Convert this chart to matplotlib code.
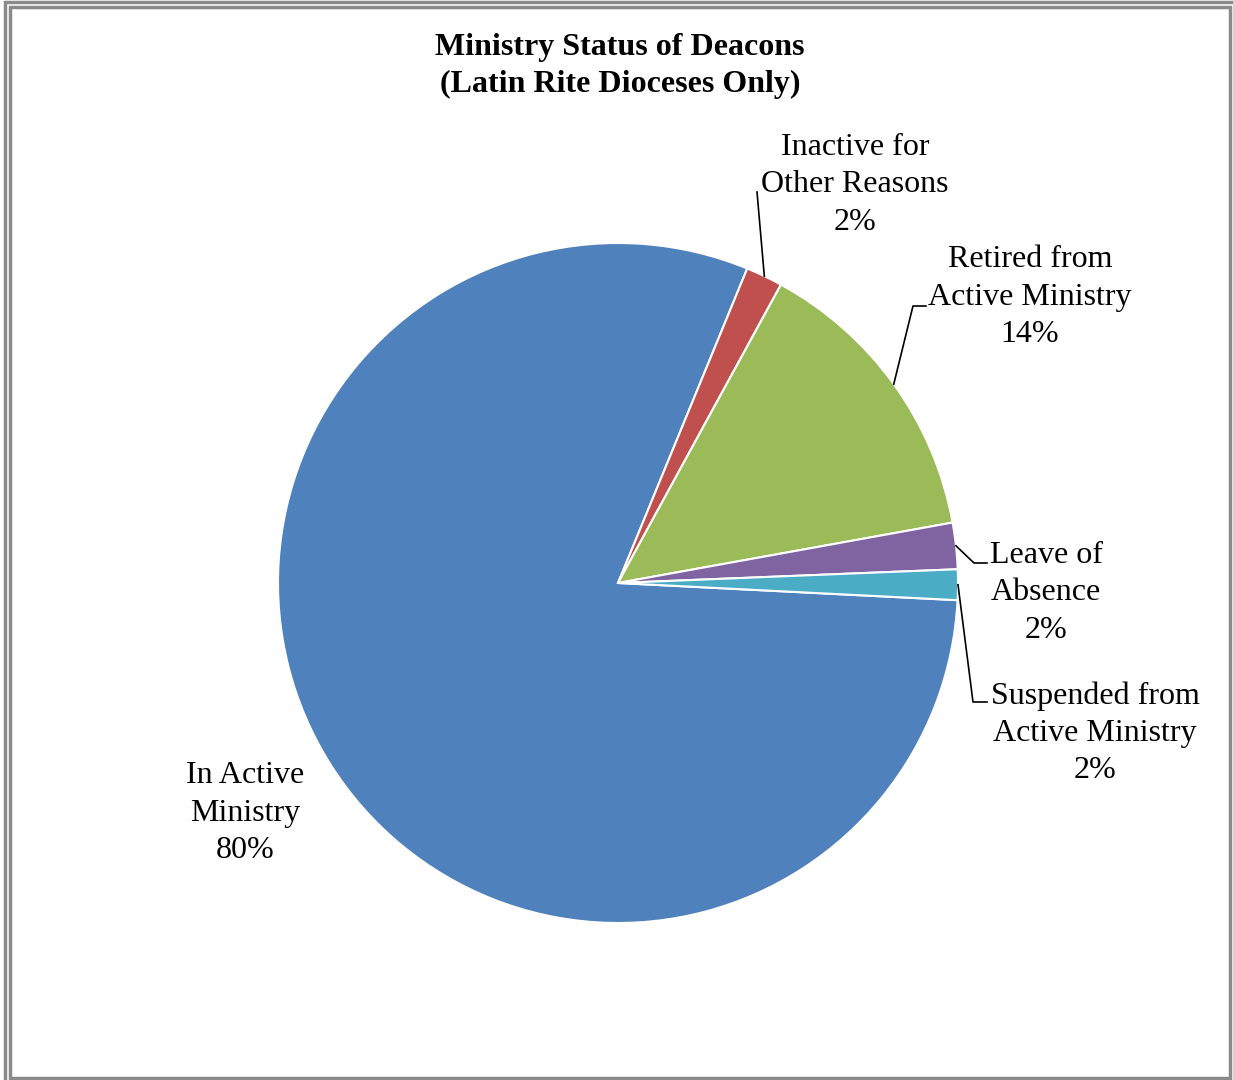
import numpy as np
import matplotlib
matplotlib.use("Agg")
import matplotlib.pyplot as plt
from matplotlib.patches import Rectangle

categories = ["In Active\nMinistry", "Inactive for\nOther Reasons", "Retired from\nActive Ministry",
              "Leave of\nAbsence", "Suspended from\nActive Ministry"]
values = [80.4, 1.75, 14.2, 2.2, 1.45]
pct_labels = ["80%", "2%", "14%", "2%", "2%"]
colors = ["#4F81BD", "#C0504D", "#9BBB59", "#8064A2", "#4BACC6"]
title = "Ministry Status of Deacons\n(Latin Rite Dioceses Only)"

W, H = 1233, 1080
fig = plt.figure(figsize=(W / 100, H / 100), dpi=100)
ax = fig.add_axes([0, 0, 1, 1])
ax.set_xlim(0, W)
ax.set_ylim(0, H)
ax.set_aspect("equal")
ax.axis("off")

cx, cy, r = 618, H - 583, 340
start = 90 - 92.9
wedges, _ = ax.pie(values, colors=colors, startangle=start, counterclock=False,
                   center=(cx, cy), radius=r, frame=True,
                   wedgeprops=dict(edgecolor="white", linewidth=1.5))
ax.set_xlim(0, W)
ax.set_ylim(0, H)
ax.axis("off")

font = dict(family=["Liberation Serif", "DejaVu Serif"], fontsize=23)

# label centers (pixel coords, top-origin) and leader elbow/end points
label_pos = [(245, 813), (855, 185), (1030, 297), (1046, 593), (1095, 733)]
leaders = [None,
           [(757, 192)],
           [(913, 306), (926, 306)],
           [(974, 563), (987, 563)],
           [(973, 702), (987, 702)]]

for i, w in enumerate(wedges):
    lx, ly = label_pos[i]
    ax.text(lx, H - ly, categories[i] + "\n" + pct_labels[i], ha="center", va="center",
            linespacing=1.37, **font)
    if leaders[i] is not None:
        mid = np.deg2rad((w.theta1 + w.theta2) / 2)
        sx, sy = cx + r * np.cos(mid), cy + r * np.sin(mid)
        xs = [sx] + [p[0] for p in leaders[i]]
        ys = [sy] + [H - p[1] for p in leaders[i]]
        ax.plot(xs, ys, color="black", lw=1.2)

ax.text(620, H - 66, title, ha="center", va="center", fontweight="bold", linespacing=1.38,
        family=["Liberation Serif", "DejaVu Serif"], fontsize=23)

# frame
ax.add_patch(Rectangle((5, -10), W + 10, H - 2 + 10, fill=False, edgecolor="#8a8a8a", lw=2.5, clip_on=False))
ax.add_patch(Rectangle((10, H - 1078), 1220, 1078 - 7, fill=False, edgecolor="#8a8a8a", lw=2.5, clip_on=False))

fig.savefig("out.png", dpi=100)
